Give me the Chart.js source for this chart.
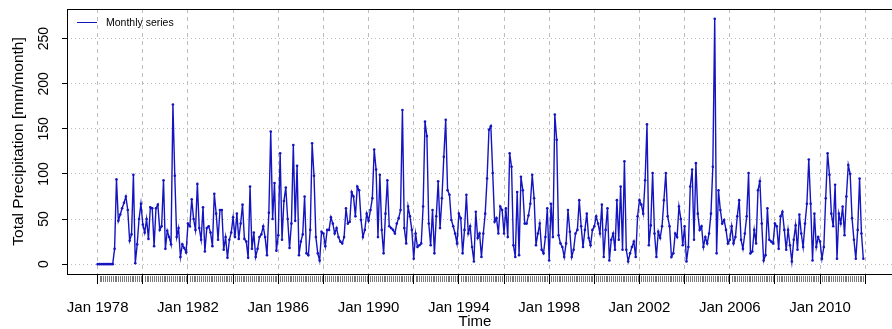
<!DOCTYPE html>
<html>
<head>
<meta charset="utf-8">
<script src="https://cdn.jsdelivr.net/npm/chart.js@4/dist/chart.umd.min.js"></script>
<style>
  html, body { margin: 0; padding: 0; overflow: hidden; background: #fff; }
  canvas { display: block; }
</style>
</head>
<body>
<canvas id="c" width="898" height="329"></canvas>
<script>
// Monthly total precipitation, Jan 1978 - Dec 2011 (mm/month), one row per year
const startYear = 1978;
const seriesName = 'Monthly series';
const precip = [
  0, 0, 0, 0, 0, 0, 0, 0, 0, 17, 94, 48,          // 1978
  55, 62, 68, 75, 60, 26, 33, 99, 1, 22, 50, 67,   // 1979
  44, 35, 50, 28, 63, 62, 20, 62, 66, 38, 42, 93,  // 1980
  17, 37, 30, 22, 177, 98, 30, 40, 8, 22, 18, 13,  // 1981
  45, 42, 72, 50, 38, 89, 40, 27, 63, 14, 40, 42,  // 1982
  35, 20, 78, 56, 27, 60, 60, 16, 30, 7, 27, 35,   // 1983
  52, 30, 56, 28, 45, 66, 28, 25, 7, 86, 17, 35,   // 1984
  8, 17, 30, 33, 42, 30, 10, 57, 147, 50, 90, 15,  // 1985
  32, 123, 27, 70, 85, 50, 18, 45, 132, 48, 109, 10, // 1986
  25, 33, 75, 12, 10, 38, 134, 98, 30, 12, 4, 36,  // 1987
  34, 20, 38, 38, 52, 45, 34, 40, 30, 25, 23, 30,  // 1988
  62, 45, 47, 80, 75, 53, 86, 82, 49, 30, 38, 56,  // 1989
  48, 60, 73, 127, 105, 30, 99, 38, 12, 56, 93, 42, // 1990
  40, 38, 34, 45, 51, 60, 171, 40, 23, 64, 53, 38, // 1991
  6, 34, 19, 21, 23, 64, 158, 142, 45, 21, 60, 12, // 1992
  53, 92, 40, 73, 119, 160, 82, 77, 49, 42, 34, 23, // 1993
  56, 51, 12, 38, 77, 34, 42, 19, 3, 58, 29, 34,   // 1994
  8, 34, 56, 95, 149, 153, 101, 47, 51, 34, 64, 60, // 1995
  34, 62, 30, 123, 108, 21, 8, 80, 10, 97, 82, 45, // 1996
  45, 54, 67, 99, 73, 21, 34, 45, 16, 12, 30, 62,  // 1997
  4, 67, 30, 166, 138, 32, 23, 19, 8, 23, 60, 36,  // 1998
  8, 16, 34, 38, 71, 42, 19, 38, 56, 29, 21, 38,   // 1999
  42, 53, 45, 34, 66, 8, 38, 62, 4, 27, 34, 16,    // 2000
  71, 27, 86, 16, 114, 16, 3, 12, 19, 25, 8, 53,   // 2001
  71, 66, 56, 93, 155, 21, 43, 101, 34, 8, 36, 29, // 2002
  42, 71, 101, 53, 42, 8, 12, 34, 30, 64, 50, 21,  // 2003
  42, 3, 19, 86, 105, 27, 112, 56, 38, 42, 19, 30, // 2004
  23, 34, 56, 108, 272, 12, 82, 60, 45, 49, 38, 23, // 2005
  27, 42, 23, 30, 53, 71, 27, 17, 34, 53, 101, 12, // 2006
  14, 38, 23, 82, 92, 45, 4, 10, 62, 27, 25, 23,   // 2007
  45, 42, 17, 53, 58, 38, 16, 38, 21, 3, 27, 43,   // 2008
  16, 55, 34, 19, 45, 67, 116, 67, 4, 56, 19, 30,  // 2009
  25, 6, 19, 73, 123, 99, 56, 42, 88, 6, 56, 45,   // 2010
  64, 32, 75, 110, 100, 51, 27, 6, 38, 95, 34, 6   // 2011
];

// Axis ticks: a major tick every two years, a label every four years
const xTickMonths = [0, 24, 48, 72, 96, 120, 144, 168, 192, 216, 240, 264, 288, 312, 336, 360, 384, 408];
const xLabelMonths = [0, 48, 96, 144, 192, 240, 288, 336, 384];
const xLabels = ['Jan 1978', 'Jan 1982', 'Jan 1986', 'Jan 1990', 'Jan 1994', 'Jan 1998', 'Jan 2002', 'Jan 2006', 'Jan 2010'];
const yTicks = [0, 50, 100, 150, 200, 250];

const xTitle = 'Time';
const yTitle = 'Total Precipitation [mm/month]';

const lineColor = '#1414c0';
const gridColor = '#bdbdbd';
const FONT = '"Liberation Sans", Arial, Helvetica, sans-serif';

Chart.defaults.font.family = FONT;
Chart.defaults.color = '#000';

const points = precip.map((v, i) => ({ x: i, y: v }));

// Frame, minor month ticks, rotated y labels, x title and the legend
const decorations = {
  id: 'decorations',
  afterDraw(chart) {
    const { ctx, chartArea: a, scales: { x, y } } = chart;
    ctx.save();

    // minor tick for every month
    ctx.strokeStyle = '#7a7a7a';
    ctx.lineWidth = 1;
    ctx.beginPath();
    for (let m = 0; m <= precip.length; m++) {
      if (xTickMonths.includes(m)) continue;
      const px = Math.round(x.getPixelForValue(m)) + 0.5;
      ctx.moveTo(px, a.bottom + 2);
      ctx.lineTo(px, a.bottom + 8);
    }
    ctx.stroke();

    // plot box
    ctx.strokeStyle = '#000';
    ctx.strokeRect(a.left + 0.5, a.top + 0.5, a.right - a.left, a.bottom - a.top);

    // y tick labels, written parallel to the axis
    ctx.fillStyle = '#000';
    ctx.font = '14px ' + FONT;
    ctx.textAlign = 'center';
    ctx.textBaseline = 'middle';
    yTicks.forEach(v => {
      const py = y.getPixelForValue(v);
      ctx.save();
      ctx.translate(44, py);
      ctx.rotate(-Math.PI / 2);
      ctx.fillText(String(v), 0, 0);
      ctx.restore();
    });

    // x axis title
    ctx.font = '15px ' + FONT;
    ctx.fillText(xTitle, 475, 322);

    // legend
    const ds = chart.data.datasets[0];
    ctx.strokeStyle = ds.borderColor;
    ctx.lineWidth = 1;
    ctx.beginPath();
    ctx.moveTo(77, 22.5);
    ctx.lineTo(97, 22.5);
    ctx.stroke();
    ctx.font = '10.5px ' + FONT;
    ctx.textAlign = 'left';
    ctx.fillText(ds.label, 106, 23);

    ctx.restore();
  }
};

new Chart(document.getElementById('c'), {
  type: 'line',
  data: {
    datasets: [{
      label: seriesName,
      data: points,
      borderColor: lineColor,
      backgroundColor: lineColor,
      borderWidth: 1.4,
      pointRadius: 1.3,
      pointBorderWidth: 0,
      pointBackgroundColor: lineColor,
      tension: 0,
      fill: false
    }]
  },
  options: {
    responsive: false,
    devicePixelRatio: 1,
    animation: false,
    events: [],
    layout: { padding: { top: 9, right: 1, left: 0, bottom: 0 } },
    plugins: { legend: { display: false }, tooltip: { enabled: false } },
    scales: {
      x: {
        type: 'linear',
        min: -16.3,
        max: 423.3,
        afterFit(s) { s.height = 55; },
        afterBuildTicks(s) { s.ticks = xTickMonths.map(v => ({ value: v })); },
        border: { display: false, dash: [4, 4] },
        grid: {
          color: gridColor,
          lineWidth: 1,
          tickLength: 10,
          tickColor: '#000',
          tickWidth: 1,
          tickBorderDash: []
        },
        ticks: {
          autoSkip: false,
          maxRotation: 0,
          minRotation: 0,
          padding: 15,
          font: { size: 15 },
          color: '#000',
          callback(v) {
            const k = xLabelMonths.indexOf(v);
            return k >= 0 ? xLabels[k] : '';
          }
        }
      },
      y: {
        type: 'linear',
        min: -10.9,
        max: 282.9,
        afterFit(s) { s.width = 67; },
        afterBuildTicks(s) { s.ticks = yTicks.map(v => ({ value: v })); },
        border: { display: false, dash: [1, 3] },
        grid: {
          color: gridColor,
          lineWidth: 1,
          tickLength: 5,
          tickColor: '#000',
          tickWidth: 1,
          tickBorderDash: []
        },
        ticks: { display: false },
        title: {
          display: true,
          text: yTitle,
          font: { size: 15.5 },
          color: '#000',
          padding: { top: 9, bottom: 0 }
        }
      }
    }
  },
  plugins: [decorations]
});
</script>
</body>
</html>
